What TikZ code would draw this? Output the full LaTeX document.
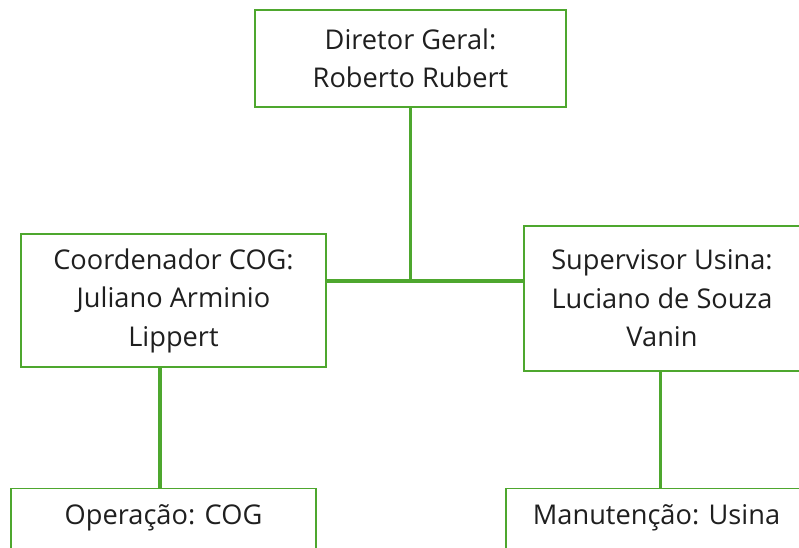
\documentclass[tikz,border=0pt]{standalone}
\usepackage{fontspec}
\setmainfont{Open Sans}
\definecolor{ogreen}{HTML}{4EA72E}
\begin{document}
\begin{tikzpicture}[x=1pt,y=-1pt,
  box/.style={draw=ogreen, line width=1.4pt, fill=white, align=center, inner sep=0pt,
    font=\fontsize{27.2}{38.5}\selectfont, text=black!88},
  openbox/.style={box, anchor=north, minimum height=120pt, text height=36pt, text depth=84pt},
  link/.style={draw=ogreen, line width=3.3pt}]
\useasboundingbox (0,0) rectangle (799,547);
\clip (0,0) rectangle (799,547);
\node[box, minimum width=311pt, minimum height=97pt] (t) at (410.5,58.5) {Diretor Geral:\\Roberto Rubert};
\node[box, minimum width=305pt, minimum height=133pt] (l) at (173.5,300.5) {Coordenador COG:\\Juliano Arminio\\Lippert};
\node[box, minimum width=276pt, minimum height=145pt] (r) at (662,298.5) {Supervisor Usina:\\Luciano de Souza\\Vanin};
\node[openbox, minimum width=305pt] (lb) at (163.5,488) {Operação: COG};
\node[openbox, minimum width=301pt] (rb) at (656.5,488) {Manutenção: Usina};
\coordinate (j) at (410.5,281);
\draw[link] (t.south) -- (j);
\draw[link] (l.east |- j) -- (r.west |- j);
\draw[link] ([xshift=-3.5pt]lb.north |- l.south) -- ([xshift=-3.5pt]lb.north);
\draw[link] ([xshift=-1.5pt]r.south) -- ([xshift=-1.5pt]r.south |- rb.north);
\end{tikzpicture}
\end{document}
